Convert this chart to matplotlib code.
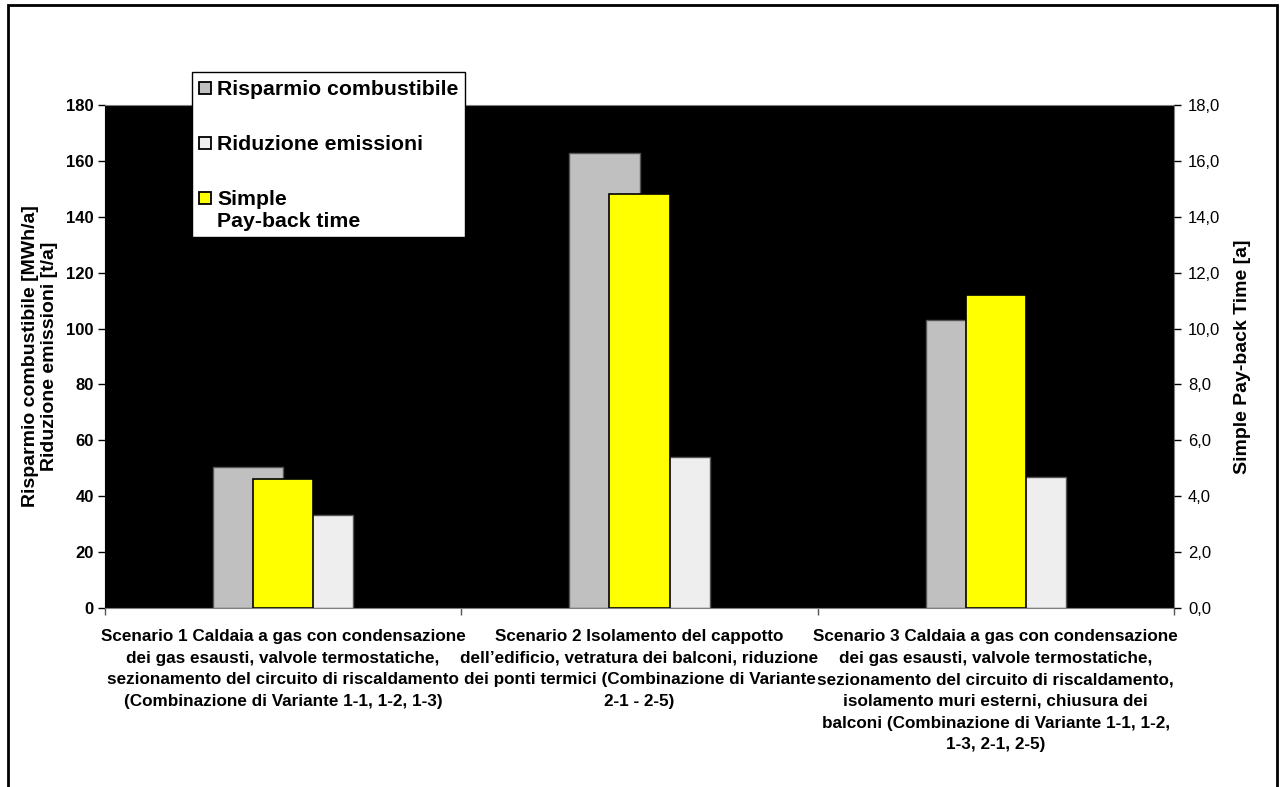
import matplotlib
matplotlib.use("Agg")
import matplotlib.pyplot as plt
from matplotlib.patches import Rectangle
from matplotlib.ticker import FuncFormatter, MultipleLocator

plt.rcParams['font.family'] = ['Liberation Sans', 'DejaVu Sans']

scenarios = [
    "Scenario 1 Caldaia a gas con condensazione\ndei gas esausti, valvole termostatiche,\nsezionamento del circuito di riscaldamento\n(Combinazione di Variante 1-1, 1-2, 1-3)",
    "Scenario 2 Isolamento del cappotto\ndell\u2019edificio, vetratura dei balconi, riduzione\ndei ponti termici (Combinazione di Variante\n2-1 - 2-5)",
    "Scenario 3 Caldaia a gas con condensazione\ndei gas esausti, valvole termostatiche,\nsezionamento del circuito di riscaldamento,\nisolamento muri esterni, chiusura dei\nbalconi (Combinazione di Variante 1-1, 1-2,\n1-3, 2-1, 2-5)",
]
risparmio = [50.5, 163, 103]      # MWh/a
riduzione = [33.2, 54, 46.8]      # t/a
payback = [4.6, 14.8, 11.2]       # years

series_names = ["Risparmio combustibile", "Riduzione emissioni", "Simple\nPay-back time"]
series_colors = ['#C0C0C0', '#EEEEEE', '#FFFF00']

W, H = 1282, 787
fig = plt.figure(figsize=(W / 100, H / 100), dpi=100)
ax = fig.add_axes([105 / W, 1 - 608 / H, (1174 - 105) / W, (608 - 105) / H])
ax.set_facecolor('black')

x = list(range(len(scenarios)))
w = 0.197
ax.bar([i - w / 2 for i in x], risparmio, width=w, color=series_colors[0],
       edgecolor='#555555', linewidth=1, zorder=2)
ax.bar([i + w / 2 for i in x], riduzione, width=w, color=series_colors[1],
       edgecolor='#555555', linewidth=1, zorder=2)

ax.set_xlim(-0.5, 2.5)
ax.set_ylim(0, 180)
ax.yaxis.set_major_locator(MultipleLocator(20))
ax.tick_params(axis='y', labelsize=12, direction='out', length=5, width=1, pad=3)
for t in ax.get_yticklabels():
    t.set_fontweight('bold')
ax.set_ylabel("Risparmio combustibile [MWh/a]\nRiduzione emissioni [t/a]",
              fontsize=14, fontweight='bold', labelpad=6, linespacing=1.12)

ax.set_xticks(x)
ax.set_xticklabels(scenarios, fontsize=12.3, fontweight='bold', linespacing=1.56)
ax.tick_params(axis='x', which='major', length=0, pad=15)
ax.set_xticks([-0.5, 0.5, 1.5, 2.5], minor=True)
ax.tick_params(axis='x', which='minor', length=5, direction='out', width=1, color='#555555')

for s in ['top', 'right', 'bottom']:
    ax.spines[s].set_color('#808080')
ax.spines['left'].set_color('black')

ax2 = ax.twinx()
ax2.bar(x, payback, width=0.169, color=series_colors[2], edgecolor='black',
        linewidth=1.2, zorder=3)
ax2.set_ylim(0, 18)
ax2.yaxis.set_major_locator(MultipleLocator(2))
ax2.yaxis.set_major_formatter(FuncFormatter(lambda v, p: f"{v:.1f}".replace('.', ',')))
ax2.tick_params(axis='y', labelsize=12, direction='out', length=5, width=1, pad=5)
ax2.set_ylabel("Simple Pay-back Time [a]", fontsize=14, fontweight='bold', labelpad=10)
for s in ax2.spines.values():
    s.set_visible(False)

# legend box drawn in figure pixel coordinates
def px(xp, yp):
    return xp / W, 1 - yp / H

lx0, ly0, lx1, ly1 = 192, 72, 465, 237
bx, by = px(lx0, ly1)
fig.patches.append(Rectangle((bx, by), (lx1 - lx0) / W, (ly1 - ly0) / H,
                             transform=fig.transFigure, facecolor='white',
                             edgecolor='black', linewidth=1, zorder=20))
row_y = [88, 143, 198]
for name, color, yy in zip(series_names, series_colors, row_y):
    sx, sy = px(199, yy + 6)
    fig.patches.append(Rectangle((sx, sy), 12 / W, 12 / H, transform=fig.transFigure,
                                 facecolor=color, edgecolor='black', linewidth=1.3,
                                 zorder=21))
    tx, ty = px(217, yy - 8)
    fig.text(tx, ty, name, fontsize=15.3, fontweight='bold', va='top', ha='left',
             linespacing=1.22, zorder=22)

fig.patches.append(Rectangle((8 / W, -0.05), (1277 - 8) / W, 1.05 - 5 / H,
                             transform=fig.transFigure, fill=False,
                             edgecolor='black', linewidth=2))

fig.savefig("out.png", dpi=100, facecolor='white')
